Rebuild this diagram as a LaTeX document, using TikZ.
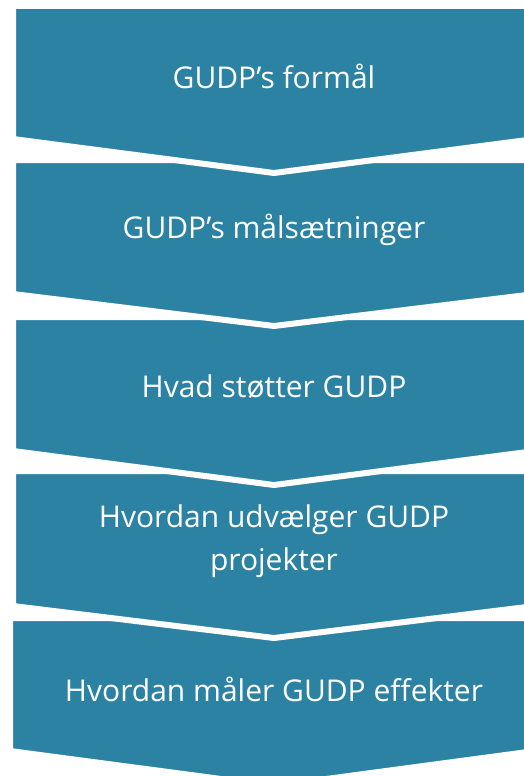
\documentclass[tikz,border=0pt]{standalone}
\usepackage{fontspec}
\setmainfont{Open Sans}
\usepackage{xcolor}
\definecolor{gudpblue}{HTML}{2B82A3}
\usepackage{tikz}
\usetikzlibrary{positioning}

\begin{document}
\begin{tikzpicture}[x=1pt,y=-1pt,
    chevron/.style={fill=gudpblue,draw=white,line width=6pt,line join=miter},
    steptext/.style={text=white,font=\fontsize{30}{43}\selectfont,align=center}]
  \useasboundingbox (0,0) rectangle (523,776);
  % Chevrons, drawn bottom-up so each white edge lies over the next
  \draw[chevron] (10,618)--(535,618)--(535,751)--(274,786)--(10,751)--cycle;
  \draw[chevron] (13,471)--(535,471)--(535,606)--(274,638)--(13,606)--cycle;
  \draw[chevron] (13,317)--(535,317)--(535,451)--(274,485)--(13,451)--cycle;
  \draw[chevron] (13,160)--(535,160)--(535,294)--(274,326)--(13,294)--cycle;
  \draw[chevron] (13,6)--(535,6)--(535,139)--(274,173)--(13,139)--cycle;
  % Labels
  \node[steptext] (formaal) at (274,76) {GUDP's formål};
  \node[steptext] (maal) at (274,230) {GUDP's målsætninger};
  \node[steptext] (stoette) at (274,387) {Hvad støtter GUDP};
  \node[steptext] (udvaelg) at (274,541) {Hvordan udvælger GUDP\\projekter};
  \node[steptext] (effekt) at (274,689) {Hvordan måler GUDP effekter};
\end{tikzpicture}
\end{document}
